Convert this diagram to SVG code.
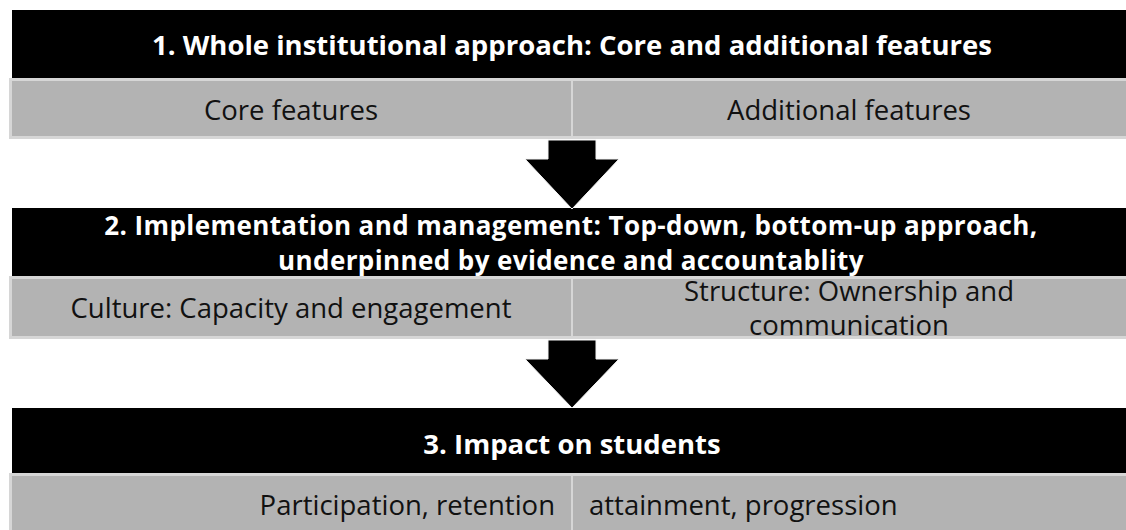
<svg xmlns="http://www.w3.org/2000/svg" width="1126" height="530" viewBox="0 0 1126 530">
<style>
.hdr{fill:#000}
.sub{fill:#b3b3b3;stroke:#d6d6d6;stroke-width:3}
.div{stroke:#d6d6d6;stroke-width:2}
.t{font-family:"Open Sans","Noto Sans",sans-serif;font-weight:bold;font-size:27.5px;fill:#fff;text-anchor:middle}
.t2{font-size:26px;letter-spacing:0.4px}
.s{font-family:"Open Sans","Noto Sans",sans-serif;font-size:27.5px;fill:#111;text-anchor:middle}
.arr{fill:#000;stroke:#f4f4f4;stroke-width:1}
</style>
<rect width="1126" height="530" fill="#fff"/>
<g id="node1">
<rect class="hdr" x="12" y="10" width="1114" height="68"/>
<text class="t" x="572" y="55">1. Whole institutional approach: Core and additional features</text>
<rect class="sub" x="10.5" y="79.5" width="1118" height="58"/>
<line class="div" x1="572" y1="79" x2="572" y2="138"/>
<text class="s" x="291" y="120">Core features</text>
<text class="s" x="849" y="120">Additional features</text>
</g>
<g id="node2">
<rect class="hdr" x="12" y="208" width="1114" height="68"/>
<text class="t t2" x="571" y="235">2. Implementation and management: Top-down, bottom-up approach,</text>
<text class="t t2" x="571" y="270">underpinned by evidence and accountablity</text>
<rect class="sub" x="10.5" y="277.5" width="1118" height="60"/>
<line class="div" x1="572" y1="277" x2="572" y2="338"/>
<text class="s" x="291" y="318">Culture: Capacity and engagement</text>
<text class="s" x="849" y="301">Structure: Ownership and</text>
<text class="s" x="849" y="335">communication</text>
</g>
<g id="node3">
<rect class="hdr" x="12" y="408" width="1114" height="65"/>
<text class="t" x="572" y="454">3. Impact on students</text>
<rect class="sub" x="10.5" y="474.5" width="1118" height="60"/>
<line class="div" x1="572" y1="474" x2="572" y2="530"/>
<text class="s" x="555" y="515" style="text-anchor:end">Participation, retention</text>
<text class="s" x="589" y="515" style="text-anchor:start">attainment, progression</text>
</g>
<g id="connectors">
<polygon class="arr" points="548,140 596,140 596,159 619,159 572,209 525,159 548,159"/>
<polygon class="arr" points="548,340 596,340 596,359 619,359 572,408 525,359 548,359"/>
</g>
</svg>
